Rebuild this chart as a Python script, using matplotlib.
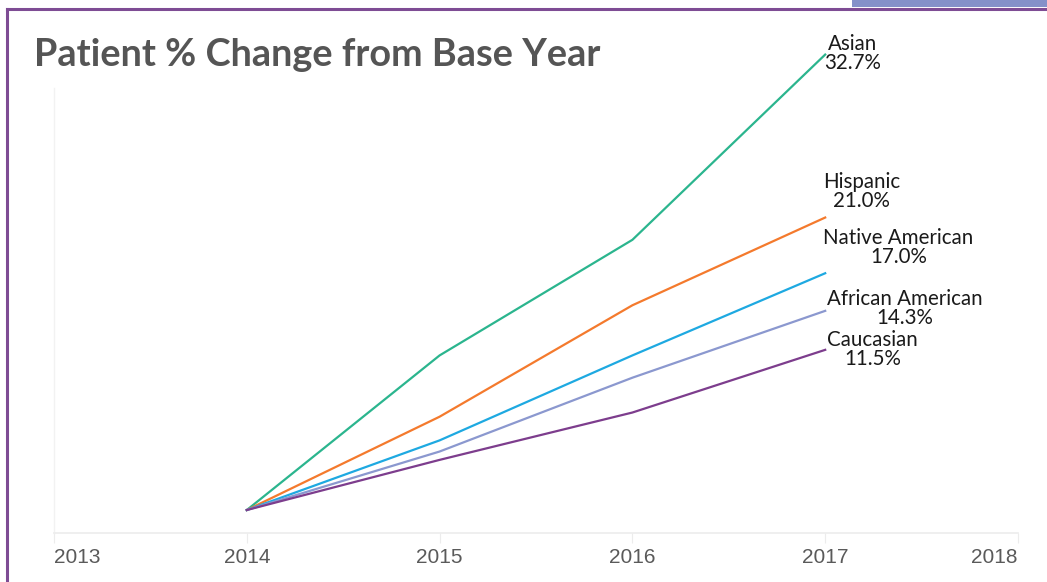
import matplotlib
matplotlib.use("Agg")
import matplotlib.pyplot as plt
from matplotlib.lines import Line2D
from matplotlib.patches import Rectangle

# data (% change vs. 2014)
years = [2014, 2015, 2016, 2017]
groups = ["Asian", "Hispanic", "Native American", "African American", "Caucasian"]
asian = [0, 11.1, 19.4, 32.7]
hispanic = [0, 6.7, 14.7, 21.0]
native_american = [0, 5.0, 11.1, 17.0]
african_american = [0, 4.2, 9.5, 14.3]
caucasian = [0, 3.6, 7.0, 11.5]
tick_years = [2013, 2014, 2015, 2016, 2017, 2018]

series = [asian, hispanic, native_american, african_american, caucasian]
colors = ["#2bb58e", "#f47a2d", "#1ea9e1", "#8b98cf", "#7d3d8d"]
# label offsets in pixels from the line end (left edge, vertical centre)
label_offsets = [(-1, 1), (-2, 26), (-2, 26), (2, 2), (2, 0)]

W, H = 1047, 582
fig = plt.figure(figsize=(W / 100, H / 100), dpi=100)
fig.patch.set_facecolor("white")

# frame decorations
fig.add_artist(Rectangle((852 / W, 1 - 7 / H), 1 - 852 / W, 7 / H,
                         transform=fig.transFigure, color="#8491c9", lw=0))
fig.add_artist(Line2D([7 / W, 1], [1 - 8.5 / H] * 2, transform=fig.transFigure,
                      color="#7e4c94", lw=2.2))
fig.add_artist(Line2D([7 / W] * 2, [0, 1 - 8.5 / H], transform=fig.transFigure,
                      color="#7e4c94", lw=2.2))

ax = fig.add_axes([54 / W, 1 - 533 / H, (1018 - 54) / W, (533 - 88) / H])
ax.set_xlim(2013, 2018)
ax.set_ylim(-1.65, 30.3)

for name, vals, c, off in zip(groups, series, colors, label_offsets):
    ax.plot(years, vals, color=c, lw=1.6, clip_on=False, solid_joinstyle="miter")
    ax.annotate(f"{name}\n{vals[-1]:.1f}%", xy=(years[-1], vals[-1]),
                xytext=off, textcoords="offset pixels", ha="left", va="center",
                multialignment="center", fontsize=14.8, family="Lato",
                color="#1a1a1a", linespacing=0.95, annotation_clip=False)

for s in ["top", "right"]:
    ax.spines[s].set_visible(False)
ax.spines["left"].set_color("#f2f2f2")
ax.spines["bottom"].set_color("#ececec")
ax.spines["left"].set_linewidth(1)
ax.spines["bottom"].set_linewidth(1.2)
ax.set_yticks([])
ax.set_xticks(tick_years)
ax.set_xticklabels([str(y) for y in tick_years],
                   family=["Liberation Sans Narrow", "Liberation Sans"],
                   fontsize=15, color="#5a5a5a")
ax.tick_params(axis="x", length=7, color="#ececec", pad=4)
lbls = ax.get_xticklabels()
lbls[0].set_ha("left")
lbls[-1].set_ha("right")

fig.text(34 / W, 1 - 66 / H, "Patient % Change from Base Year", family="Lato",
         weight="bold", fontsize=27.3, color="#555555", va="baseline", ha="left")

fig.savefig("out.png", dpi=100)
